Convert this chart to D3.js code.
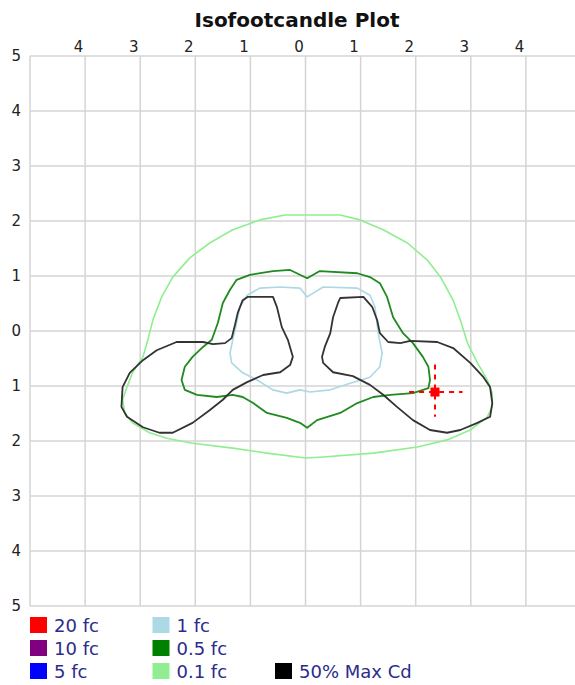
<!DOCTYPE html>
<html>
<head>
<meta charset="utf-8">
<script src="https://cdn.jsdelivr.net/npm/d3@7"></script>
<style>
  body { margin: 0; background: #fff; }
  svg { display: block; font-family: "DejaVu Sans", Verdana, sans-serif; }
</style>
</head>
<body>
<svg id="chart" width="575" height="685"></svg>
<script>
// axis ticks (feet), labels shown as absolute values
const xTicks = [-4, -3, -2, -1, 0, 1, 2, 3, 4];
const yTicks = [-5, -4, -3, -2, -1, 0, 1, 2, 3, 4, 5];
const gridTicks = [-5, -4, -3, -2, -1, 0, 1, 2, 3, 4, 5];

// legend
const levelNames = ["20 fc", "10 fc", "5 fc", "1 fc", "0.5 fc", "0.1 fc", "50% Max Cd"];
const levelColors = ["#ff0000", "#800080", "#0000ff", "#add8e6", "#008000", "#90ee90", "#000000"];

// contours, [x, y] in feet
const fc01 = [[0,2.11],[0.63,2.11],[0.99,2.02],[1.41,1.84],[1.85,1.6],[2.21,1.29],[2.45,0.98],[2.68,0.56],[2.81,0.2],[2.94,-0.22],[3.12,-0.58],[3.3,-0.89],[3.39,-1.13],[3.39,-1.38],[3.3,-1.56],[2.99,-1.8],[2.57,-1.98],[2.03,-2.11],[1.23,-2.22],[0.32,-2.29],[0,-2.31],[-0.7,-2.22],[-1.32,-2.13],[-2.05,-2.04],[-2.52,-1.95],[-2.83,-1.85],[-3.14,-1.67],[-3.28,-1.49],[-3.32,-1.25],[-3.24,-1.02],[-3.14,-0.76],[-2.95,-0.47],[-2.86,-0.16],[-2.77,0.2],[-2.61,0.62],[-2.41,0.98],[-2.1,1.33],[-1.74,1.6],[-1.32,1.84],[-0.83,2.02],[-0.37,2.11]];
const fc05 = [[0.03,0.96],[0.26,1.09],[0.94,1.05],[1.17,0.98],[1.35,0.87],[1.48,0.62],[1.59,0.25],[1.77,-0.04],[1.95,-0.22],[2.13,-0.47],[2.23,-0.65],[2.26,-0.89],[2.23,-1.04],[1.95,-1.13],[1.54,-1.16],[1.23,-1.2],[0.94,-1.31],[0.63,-1.49],[0.21,-1.62],[0.03,-1.76],[-0.1,-1.67],[-0.34,-1.58],[-0.7,-1.49],[-0.95,-1.31],[-1.14,-1.2],[-1.32,-1.16],[-1.61,-1.2],[-1.97,-1.16],[-2.19,-1.07],[-2.25,-0.89],[-2.19,-0.65],[-2.05,-0.47],[-1.86,-0.29],[-1.7,-0.16],[-1.59,0.15],[-1.5,0.51],[-1.37,0.75],[-1.25,0.93],[-1.01,1.02],[-0.59,1.09],[-0.28,1.11]];
const fc1 = [[0.03,0.62],[0.32,0.8],[0.94,0.78],[1.17,0.65],[1.26,0.44],[1.32,-0.04],[1.39,-0.4],[1.35,-0.65],[1.17,-0.84],[0.81,-0.95],[0.45,-1.07],[0.08,-1.11],[-0.1,-1.07],[-0.34,-1.13],[-0.59,-1.07],[-0.88,-0.89],[-1.14,-0.76],[-1.34,-0.58],[-1.37,-0.4],[-1.32,-0.16],[-1.25,0.15],[-1.19,0.44],[-1.06,0.65],[-0.83,0.78],[-0.46,0.8],[-0.1,0.78]];
const maxCdLeft = [[-1.05,0.62],[-0.59,0.62],[-0.52,0.44],[-0.43,0.07],[-0.32,-0.16],[-0.23,-0.47],[-0.28,-0.62],[-0.46,-0.75],[-0.77,-0.8],[-1.06,-0.93],[-1.32,-1.07],[-1.5,-1.25],[-1.74,-1.44],[-2.05,-1.67],[-2.41,-1.85],[-2.65,-1.85],[-2.95,-1.75],[-3.24,-1.56],[-3.34,-1.38],[-3.32,-1.02],[-3.19,-0.76],[-2.95,-0.53],[-2.7,-0.35],[-2.34,-0.2],[-1.86,-0.2],[-1.68,-0.24],[-1.46,-0.22],[-1.34,-0.13],[-1.28,0.11],[-1.23,0.33],[-1.14,0.56]];
const maxCdRight = [[0.63,0.6],[1.05,0.62],[1.21,0.44],[1.3,0.2],[1.35,-0.04],[1.5,-0.2],[1.72,-0.22],[1.9,-0.18],[2.39,-0.2],[2.68,-0.31],[2.99,-0.58],[3.23,-0.84],[3.35,-1.02],[3.39,-1.31],[3.35,-1.56],[3.12,-1.67],[2.81,-1.8],[2.57,-1.85],[2.26,-1.8],[1.95,-1.62],[1.66,-1.38],[1.41,-1.16],[1.17,-0.98],[0.86,-0.82],[0.5,-0.75],[0.32,-0.58],[0.3,-0.47],[0.35,-0.29],[0.45,-0.04],[0.5,0.25],[0.59,0.51]];
const aimPoint = [2.35, -1.11];

const svg = d3.select("#chart");
const x = d3.scaleLinear().domain([-5, 5]).range([30, 581]);
const y = d3.scaleLinear().domain([-5, 5]).range([606, 56]);

svg.append("text")
  .attr("x", 297).attr("y", 27)
  .attr("text-anchor", "middle")
  .attr("font-size", 20).attr("font-weight", "bold")
  .attr("fill", "#111")
  .text("Isofootcandle Plot");

// grid
const grid = svg.append("g").attr("stroke", "#d4d4d4").attr("stroke-width", 1.5);
grid.selectAll(".v").data(gridTicks).enter().append("line")
  .attr("x1", d => x(d)).attr("x2", d => x(d))
  .attr("y1", y(5)).attr("y2", y(-5));
grid.selectAll(".h").data(gridTicks).enter().append("line")
  .attr("x1", x(-5)).attr("x2", x(5))
  .attr("y1", d => y(d)).attr("y2", d => y(d));

// axes
const topAxis = svg.append("g")
  .attr("transform", `translate(-7,${y(5)})`)
  .call(d3.axisTop(x).tickValues(xTicks).tickSize(0).tickPadding(4).tickFormat(d => Math.abs(d)));
const leftAxis = svg.append("g")
  .attr("transform", `translate(${x(-5)},0)`)
  .call(d3.axisLeft(y).tickValues(yTicks).tickSize(0).tickPadding(9).tickFormat(d => Math.abs(d)));
[topAxis, leftAxis].forEach(a => {
  a.select(".domain").remove();
  a.selectAll("text").attr("font-size", 15).attr("fill", "#222")
    .attr("font-family", "'DejaVu Sans', Verdana, sans-serif");
});

// contours
const line = d3.line().x(d => x(d[0])).y(d => y(d[1])).curve(d3.curveLinearClosed);
const contours = [
  {pts: fc01, color: "#90ee90", w: 1.6},
  {pts: fc05, color: "#1f8a1f", w: 1.8},
  {pts: fc1, color: "#add8e6", w: 1.6},
  {pts: maxCdLeft, color: "#333333", w: 1.8},
  {pts: maxCdRight, color: "#333333", w: 1.8}
];
svg.append("g").selectAll("path").data(contours).enter().append("path")
  .attr("d", d => line(d.pts))
  .attr("fill", "none")
  .attr("stroke", d => d.color)
  .attr("stroke-width", d => d.w)
  .attr("stroke-linejoin", "round");

// aim point marker
const aim = svg.append("g").attr("stroke", "#ff0000").attr("stroke-width", 2).attr("stroke-dasharray", "5,5");
aim.append("line")
  .attr("x1", x(aimPoint[0] - 0.47)).attr("x2", x(aimPoint[0] + 0.5))
  .attr("y1", y(aimPoint[1])).attr("y2", y(aimPoint[1]));
aim.append("line")
  .attr("x1", x(aimPoint[0])).attr("x2", x(aimPoint[0]))
  .attr("y1", y(aimPoint[1] + 0.5)).attr("y2", y(aimPoint[1] - 0.45));
svg.append("rect")
  .attr("x", x(aimPoint[0]) - 4.5).attr("y", y(aimPoint[1]) - 4.5)
  .attr("width", 9).attr("height", 9)
  .attr("fill", "#ff0000");

// legend
const legend = svg.append("g");
const items = legend.selectAll("g").data(levelNames).enter().append("g")
  .attr("transform", (d, i) => {
    const col = i < 3 ? 0 : (i < 6 ? 1 : 2);
    const row = i < 6 ? i % 3 : 2;
    return `translate(${30 + col * 122.5},${617 + row * 23})`;
  });
items.append("rect")
  .attr("width", 17).attr("height", 16)
  .attr("fill", (d, i) => levelColors[i]);
items.append("text")
  .attr("x", 24).attr("y", 15)
  .attr("font-size", 18)
  .attr("fill", "#2b2b8c")
  .text(d => d);
</script>
</body>
</html>
